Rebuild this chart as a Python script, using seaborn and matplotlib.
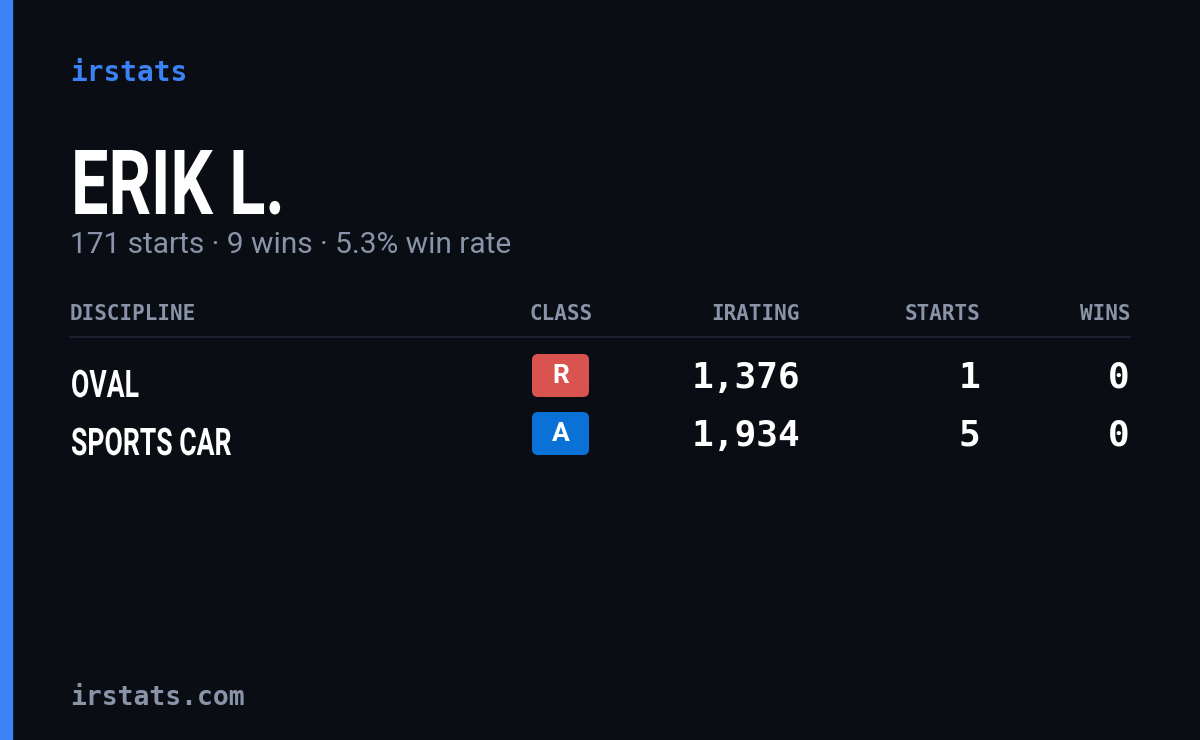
import matplotlib
matplotlib.use("Agg")
import matplotlib.pyplot as plt
from matplotlib.patches import FancyBboxPatch, Rectangle, PathPatch
from matplotlib.textpath import TextPath
from matplotlib.font_manager import FontProperties
from matplotlib.transforms import Affine2D
import seaborn as sns

brand = "irstats"
name = "ERIK L."
subtitle = "171 starts · 9 wins · 5.3% win rate"
headers = ["DISCIPLINE", "CLASS", "IRATING", "STARTS", "WINS"]
disciplines = ["OVAL", "SPORTS CAR"]
classes = ["R", "A"]
class_colors = ["#d9534f", "#0a72d6"]
iratings = [1376, 1934]
starts = [1, 5]
wins = [0, 0]
footer = "irstats.com"

sns.set_theme(style="dark")
plt.rcParams['font.family'] = ['DejaVu Sans']

bg = "#0a0d14"
fig = plt.figure(figsize=(12, 7.4), dpi=100, facecolor=bg)
ax = fig.add_axes([0, 0, 1, 1])
ax.set_facecolor(bg)
ax.set_xlim(0, 1200); ax.set_ylim(740, 0); ax.axis("off")

fp_bold = FontProperties(family="Roboto", weight="bold")

def cond_text(x, baseline, s, cap_px, sx=0.79):
    tp = TextPath((0, 0), s, size=100, prop=fp_bold)
    k = cap_px / 71.1  # Roboto cap height ~0.711 em
    tr = Affine2D().scale(k * sx, -k).translate(x, baseline) + ax.transData
    ax.add_patch(PathPatch(tp, color="white", lw=0, transform=tr))

ax.add_patch(Rectangle((0, 0), 12, 740, color="#3b82f6"))
mono = "DejaVu Sans Mono"
ax.text(70, 73, brand, color="#3b82f6", fontsize=20, family=mono, weight="bold", va="center")
cond_text(71, 214, name, 64, sx=0.74)
ax.text(70, 245, subtitle, color="#8a94a8", fontsize=21.5, family="Roboto", va="center")

hx = [70, 593, 800, 980, 1130]
has = ["left", "right", "right", "right", "right"]
for h, x, a in zip(headers, hx, has):
    ax.text(x, 314, h, color="#8a94a8", fontsize=15, family=mono, weight="bold", ha=a, va="center")
ax.plot([70, 1130], [337, 337], color="#1c2130", lw=1.5)

for i, (d, c, cc, r, s, w) in enumerate(zip(disciplines, classes, class_colors, iratings, starts, wins)):
    y = 378 + i * 58
    cond_text(71, y + 19, d, 27, sx=0.7)
    ax.add_patch(FancyBboxPatch((532, y - 24), 57, 43, boxstyle="round,pad=0,rounding_size=6",
                                color=cc, lw=0))
    ax.text(560.5, y - 2, c, color="white", fontsize=19, family="Roboto", weight="bold",
            ha="center", va="center")
    ax.text(800, y, f"{r:,}", color="white", fontsize=26, family=mono, weight="bold", ha="right", va="center")
    ax.text(980, y, str(s), color="white", fontsize=26, family=mono, weight="bold", ha="right", va="center")
    ax.text(1130, y, str(w), color="white", fontsize=26, family=mono, weight="bold", ha="right", va="center")

ax.text(70, 698, footer, color="#8a94a8", fontsize=19, family=mono, weight="bold", va="center")
fig.savefig("out.png", dpi=100, facecolor=bg)
